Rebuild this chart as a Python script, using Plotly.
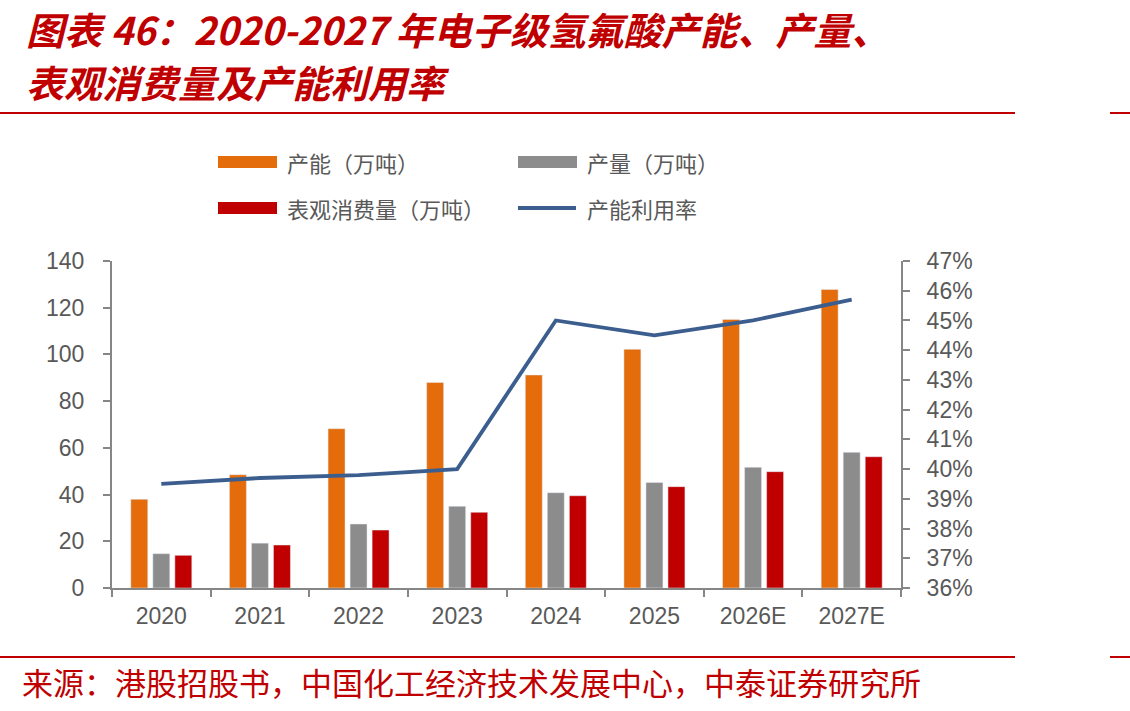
import plotly.graph_objects as go

categories = ["2020", "2021", "2022", "2023", "2024", "2025", "2026E", "2027E"]
capacity = [38, 48.5, 68.2, 88.0, 91.2, 102.2, 115.0, 127.8]
output = [14.7, 19.2, 27.4, 35.0, 40.8, 45.2, 51.7, 58.1]
consumption = [14.0, 18.4, 24.8, 32.4, 39.5, 43.4, 49.8, 56.2]
utilization = [0.395, 0.397, 0.398, 0.400, 0.450, 0.445, 0.450, 0.457]

s_capacity = "产能（万吨）"
s_output = "产量（万吨）"
s_consumption = "表观消费量（万吨）"
s_util = "产能利用率"
title1 = "图表 46：2020-2027 年电子级氢氟酸产能、产量、"
title2 = "表观消费量及产能利用率"
source = "来源：港股招股书，中国化工经济技术发展中心，中泰证券研究所"

W, H = 1130, 711
ML, MR, MT, MB = 112, 229, 261, 123
PW, PH = W - ML - MR, H - MT - MB

def px(x):
    return (x - ML) / PW

def py(y):
    return 1 - (y - MT) / PH

C_OR = "#E46C0A"
C_GR = "#8C8C8C"
C_RD = "#C00000"
C_LN = "#3B5E8F"
C_TX = "#595959"
C_AX = "#868686"
TICKFONT = dict(family="Liberation Sans, Arial, sans-serif", size=23, color=C_TX)
CJK = "Noto Sans CJK SC"

fig = go.Figure()
fig.add_bar(x=categories, y=capacity, name=s_capacity, marker_color=C_OR, showlegend=False)
fig.add_bar(x=categories, y=output, name=s_output, marker_color=C_GR, showlegend=False)
fig.add_bar(x=categories, y=consumption, name=s_consumption, marker_color=C_RD, showlegend=False)
fig.add_scatter(x=categories, y=utilization, name=s_util, yaxis="y2", mode="lines",
                line=dict(color=C_LN, width=3.8), showlegend=False)

fig.update_layout(
    width=W, height=H,
    margin=dict(l=ML, r=MR, t=MT, b=MB, pad=0),
    paper_bgcolor="white", plot_bgcolor="white",
    barmode="group", bargap=0.33, bargroupgap=0.23,
    xaxis=dict(type="category", showline=True, linecolor=C_AX, linewidth=2,
               ticks="outside", tickson="boundaries", ticklen=7, tickwidth=2, tickcolor=C_AX,
               tickfont=TICKFONT, showgrid=False, zeroline=False, ticklabelstandoff=6),
    yaxis=dict(range=[0, 140], dtick=20, showline=True, linecolor=C_AX, linewidth=2,
               ticks="outside", ticklen=7, tickwidth=2, tickcolor=C_AX,
               tickfont=TICKFONT, showgrid=False, zeroline=False, ticklabelstandoff=14),
    yaxis2=dict(range=[0.36, 0.47], dtick=0.01, tickformat=".0%", overlaying="y", side="right",
                showline=True, linecolor=C_AX, linewidth=2,
                ticks="outside", ticklen=7, tickwidth=2, tickcolor=C_AX,
                tickfont=TICKFONT, showgrid=False, zeroline=False, ticklabelstandoff=12),
)

shapes = []
annotations = []
# red rules
for yy in (113, 657):
    shapes.append(dict(type="line", xref="paper", yref="paper", x0=px(0), x1=px(1015),
                       y0=py(yy), y1=py(yy), line=dict(color=C_RD, width=2)))
    shapes.append(dict(type="line", xref="paper", yref="paper", x0=px(1110), x1=px(1130),
                       y0=py(yy), y1=py(yy), line=dict(color=C_RD, width=2)))

# legend
leg = [
    (218, 162, "bar", C_OR, s_capacity),
    (518, 162, "bar", C_GR, s_output),
    (218, 208, "bar", C_RD, s_consumption),
    (518, 208, "line", C_LN, s_util),
]
for x0, yc, kind, col, label in leg:
    if kind == "bar":
        shapes.append(dict(type="rect", xref="paper", yref="paper", x0=px(x0), x1=px(x0 + 59),
                           y0=py(yc - 6), y1=py(yc + 6), fillcolor=col, line=dict(width=0)))
    else:
        shapes.append(dict(type="line", xref="paper", yref="paper", x0=px(x0), x1=px(x0 + 58),
                           y0=py(yc), y1=py(yc), line=dict(color=col, width=4)))
    annotations.append(dict(xref="paper", yref="paper", x=px(x0 + 67), y=py(yc), text=label,
                            showarrow=False, xanchor="left", yanchor="middle",
                            font=dict(family=CJK, size=22, color=C_TX)))

# titles
for txt, yc in ((title1, 28), (title2, 81)):
    annotations.append(dict(xref="paper", yref="paper", x=px(24), y=py(yc), text=txt,
                            showarrow=False, xanchor="left", yanchor="middle",
                            font=dict(family=CJK, size=38, color=C_RD, weight="bold", style="italic")))
annotations.append(dict(xref="paper", yref="paper", x=px(20), y=py(681), text=source,
                        showarrow=False, xanchor="left", yanchor="middle",
                        font=dict(family=CJK, size=31, color=C_RD)))

fig.update_layout(shapes=shapes, annotations=annotations)
fig.write_html("out.html")
